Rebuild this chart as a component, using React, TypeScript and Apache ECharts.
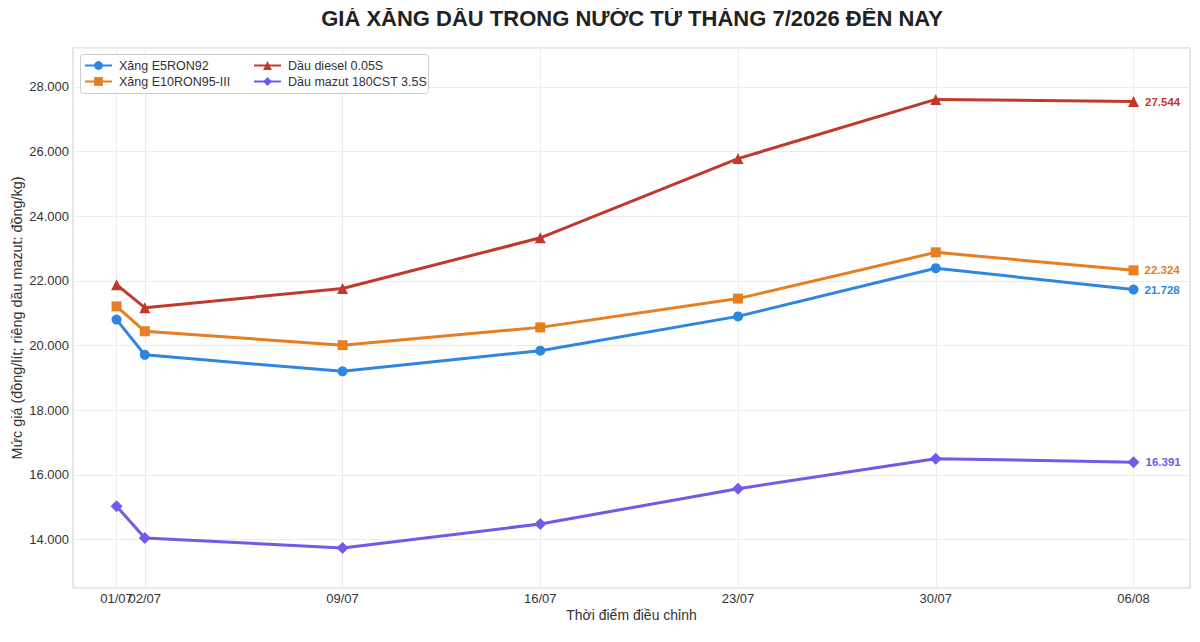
import React, { useEffect, useRef } from 'react'
import * as echarts from 'echarts'

// ngày điều chỉnh giá
const dates = ['2026-07-01', '2026-07-02', '2026-07-09', '2026-07-16', '2026-07-23', '2026-07-30', '2026-08-06']

const e5ron92 = [20800, 19710, 19200, 19840, 20900, 22390, 21728]
const e10ron95 = [21210, 20440, 20010, 20560, 21450, 22880, 22324]
const diesel005s = [21880, 21170, 21760, 23330, 25780, 27610, 27544]
const mazut180 = [15030, 14050, 13740, 14480, 15570, 16500, 16391]

const seriesNames = ['Xăng E5RON92', 'Xăng E10RON95-III', 'Dầu diesel 0.05S', 'Dầu mazut 180CST 3.5S']
const seriesColors = ['#2e86de', '#e67e22', '#c0392b', '#6c5ce7']
const seriesSymbols = ['circle', 'rect', 'triangle', 'diamond']
const seriesSizes = [10, 10, 11, 12]

const FONT = '"Liberation Sans", Arial, sans-serif'

const toTs = (d: string) => {
  const [y, m, day] = d.split('-').map(Number)
  return Date.UTC(y, m - 1, day)
}

const fmtNum = (v: number) => String(Math.round(v)).replace(/\B(?=(\d{3})+(?!\d))/g, '.')

const fmtDate = (v: number) => {
  const d = new Date(v)
  const dd = String(d.getUTCDate()).padStart(2, '0')
  const mm = String(d.getUTCMonth() + 1).padStart(2, '0')
  return `${dd}/${mm}`
}

export default function App() {
  const chartRef = useRef<HTMLDivElement>(null)

  useEffect(() => {
    if (!chartRef.current) return
    const chart = echarts.init(chartRef.current, undefined, { renderer: 'svg' })

    const ticks = dates.map(toTs)
    // 01/07 and 02/07 overlap, so 02/07 gets its own label axis
    const mainLabels = ticks.filter((_, i) => i !== 1)
    const extraLabels = [ticks[1]]
    const allValues = [e5ron92, e10ron95, diesel005s, mazut180]
    const xMin = Date.UTC(2026, 5, 29, 11)
    const xMax = Date.UTC(2026, 7, 8)

    const series = allValues.map((vals, i) => ({
      name: seriesNames[i],
      type: 'line',
      xAxisIndex: 0,
      data: vals.map((v, j) => ({
        value: [ticks[j], v],
        label: j === vals.length - 1
          ? {
              show: true,
              position: 'right',
              distance: 6,
              formatter: () => fmtNum(v),
              color: seriesColors[i],
              fontWeight: 'bold',
              fontSize: 11.5,
              fontFamily: FONT,
            }
          : { show: false },
      })),
      symbol: seriesSymbols[i],
      symbolSize: seriesSizes[i],
      showAllSymbol: true,
      itemStyle: { color: seriesColors[i] },
      lineStyle: { color: seriesColors[i], width: 3 },
      z: 3,
    }))

    const legendCommon = {
      orient: 'vertical',
      itemWidth: 27,
      itemHeight: 11,
      itemGap: 3,
      textStyle: { fontFamily: FONT, fontSize: 12.5, color: '#333', padding: [0, 0, 0, 2] },
      padding: 0,
    }

    const labelStyle = {
      formatter: (v: number) => fmtDate(v),
      fontSize: 13,
      color: '#333',
      margin: 4,
      hideOverlap: false,
      showMinLabel: true,
      showMaxLabel: true,
    }

    chart.setOption({
      animation: false,
      backgroundColor: '#ffffff',
      textStyle: { fontFamily: FONT },
      grid: {
        left: 73,
        right: 10,
        top: 48,
        bottom: 54,
        outerBoundsMode: 'none',
        containLabel: false,
        show: true,
        borderColor: '#cccccc',
        borderWidth: 1,
        backgroundColor: '#ffffff',
      },
      legend: [
        { ...legendCommon, left: 84, top: 59, data: [seriesNames[0], seriesNames[1]] },
        { ...legendCommon, left: 253, top: 59, data: [seriesNames[2], seriesNames[3]] },
      ],
      graphic: [
        {
          type: 'text',
          x: 632,
          y: 18,
          style: {
            text: 'GIÁ XĂNG DẦU TRONG NƯỚC TỪ THÁNG 7/2026 ĐẾN NAY',
            font: `bold 22px ${FONT}`,
            fill: '#222222',
            textAlign: 'center',
            textVerticalAlign: 'middle',
          },
        },
        {
          type: 'rect',
          z: 2,
          shape: { x: 80.5, y: 54.5, width: 348, height: 39, r: 3 },
          style: { fill: 'rgba(255,255,255,0.85)', stroke: '#cccccc', lineWidth: 1 },
        },
      ],
      xAxis: [
        {
          type: 'value',
          min: xMin,
          max: xMax,
          name: 'Thời điểm điều chỉnh',
          nameLocation: 'middle',
          nameGap: 20,
          nameMoveOverlap: false,
          nameTextStyle: { fontSize: 14, color: '#333', fontFamily: FONT },
          axisLine: { show: false },
          axisTick: { show: false, customValues: ticks },
          axisLabel: { ...labelStyle, customValues: mainLabels },
          splitLine: { show: true, lineStyle: { color: '#ececec', width: 1 } },
        },
        {
          type: 'value',
          position: 'bottom',
          offset: 0,
          min: xMin,
          max: xMax,
          axisLine: { show: false },
          axisTick: { show: false, customValues: extraLabels },
          axisLabel: { ...labelStyle, customValues: extraLabels },
          splitLine: { show: false },
        },
      ],
      yAxis: {
        type: 'value',
        min: 12500,
        max: 29200,
        splitNumber: 8,
        name: 'Mức giá (đồng/lít; riêng dầu mazut: đồng/kg)',
        nameLocation: 'middle',
        nameGap: 49,
        nameMoveOverlap: false,
        nameTextStyle: { fontSize: 14.4, color: '#333', fontFamily: FONT },
        axisLine: { show: false },
        axisTick: { show: false },
        axisLabel: {
          formatter: (v: number) => fmtNum(v),
          fontSize: 13,
          color: '#333',
          margin: 4,
          showMinLabel: false,
          showMaxLabel: false,
        },
        splitLine: { show: true, lineStyle: { color: '#ececec', width: 1 } },
      },
      series,
    })

    return () => {
      chart.dispose()
    }
  }, [])

  return (
    <div style={{ width: 1200, height: 642, margin: -8 }}>
      <div ref={chartRef} style={{ width: 1200, height: 642 }} />
    </div>
  )
}
